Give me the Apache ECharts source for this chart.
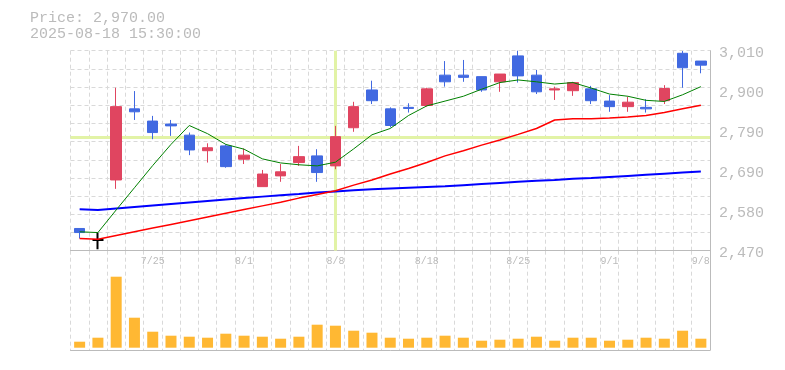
<!DOCTYPE html>
<html>
<head>
<meta charset="utf-8">
<script src="https://cdn.jsdelivr.net/npm/echarts@6/dist/echarts.min.js"></script>
<style>
html,body{margin:0;padding:0;background:#fff;}
#chart{width:785px;height:370px;}
</style>
</head>
<body>
<div id="chart"></div>
<script>
// ---- data ----
const dates = ['7/18','7/22','7/23','7/24','7/25','7/28','7/29','7/30','7/31','8/1',
  '8/4','8/5','8/6','8/7','8/8','8/12','8/13','8/14','8/15','8/18',
  '8/19','8/20','8/21','8/22','8/25','8/26','8/27','8/28','8/29','9/1',
  '9/2','9/3','9/4','9/5','9/8'];
const opens  = [2530,2499,2661,2853,2820,2812,2782,2740,2753,2717,2643,2672,2708,2726,2699,2802,2904,2853,2857,2862,2944,2944,2940,2926,2996,2944,2904,2902,2907,2874,2859,2857,2875,3003,2982];
const closes = [2519,2499,2859,2845,2789,2807,2742,2748,2697,2728,2677,2683,2724,2681,2778,2859,2875,2808,2854,2907,2926,2938,2904,2947,2942,2899,2907,2924,2875,2859,2871,2853,2908,2964,2971];
const lows   = [2503,2474,2637,2823,2771,2780,2728,2708,2694,2704,2643,2656,2699,2656,2690,2791,2866,2803,2843,2859,2913,2926,2899,2899,2924,2893,2877,2888,2866,2845,2845,2843,2866,2910,2949];
const highs  = [2530,2519,2910,2901,2834,2823,2789,2760,2757,2746,2688,2704,2753,2744,2807,2872,2929,2857,2868,2910,2982,2985,2940,2947,3010,2958,2913,2926,2915,2890,2886,2879,2917,3009,2982];
const ma5  = [2521,2519,2580,2640,2700,2757,2808,2786,2757,2744,2718,2707,2702,2699,2709,2745,2783,2800,2835,2861,2874,2887,2906,2924,2931,2926,2920,2924,2909,2893,2887,2876,2873,2891,2913];
const ma25 = [2503,2501,2511,2521,2531,2541,2551,2561,2571,2581,2591,2601,2612,2622,2632,2647,2661,2677,2692,2708,2726,2740,2755,2769,2784,2800,2823,2826,2826,2828,2831,2835,2843,2853,2863];
const ma75 = [2582,2580,2584,2588,2592,2596,2600,2604,2608,2612,2616,2620,2623,2627,2630,2633,2636,2638,2640,2642,2644,2647,2650,2653,2656,2659,2661,2664,2666,2669,2672,2675,2678,2681,2684];
const volumes = [60,100,710,300,160,120,110,100,140,120,110,90,110,230,220,170,150,100,90,100,120,100,70,80,90,110,70,100,100,70,80,100,90,170,90];
const yTickValues = [2470,2578,2686,2794,2902,3010];
const yTickLabels = ['2,470','2,580','2,690','2,790','2,900','3,010'];
const infoLines = ['Price: 2,970.00','2025-08-18 15:30:00'];
const crossDate = '8/8';
const crossPrice = 2776;

// ---- chart ----
const RED = '#E04560', BLUE = '#4169E1', GRID = '#d9d9d9', AXIS = '#bbbbbb';
const MONO = '"Liberation Mono", "DejaVu Sans Mono", monospace';
const N = dates.length;

const candleData = dates.map((d, i) => {
  const item = { value: [opens[i], closes[i], lows[i], highs[i]] };
  if (opens[i] === closes[i]) {
    item.itemStyle = { color: '#000', color0: '#000', borderColor: '#000', borderColor0: '#000', borderWidth: 2 };
  }
  return item;
});

const dashed = { color: GRID, width: 1, type: [4, 3] };

const chart = echarts.init(document.getElementById('chart'), null, { renderer: 'canvas' });
chart.setOption({
  animation: false,
  backgroundColor: '#fff',
  title: {
    text: infoLines.join('\n'),
    left: 30, top: 10, padding: 0,
    textStyle: { fontFamily: MONO, fontSize: 15, fontWeight: 'normal', color: AXIS, lineHeight: 16 }
  },
  grid: [
    { left: 70.5, right: 75, top: 50.7, height: 200 },
    { left: 70.5, right: 75, top: 250.7, bottom: 20 }
  ],
  xAxis: [
    {
      type: 'category', gridIndex: 0, data: dates, boundaryGap: true,
      axisLine: { show: true, lineStyle: { color: AXIS, width: 1 } },
      axisTick: { show: false },
      axisLabel: {
        interval: (idx) => (N - 1 - idx) % 5 === 0,
        color: AXIS, fontSize: 10, fontFamily: MONO, margin: 6
      },
      splitLine: { show: true, interval: 0, lineStyle: dashed }
    },
    {
      type: 'category', gridIndex: 1, data: dates, boundaryGap: true,
      axisLine: { show: true, onZero: false, lineStyle: { color: AXIS, width: 1 } },
      axisTick: { show: false },
      axisLabel: { show: false },
      splitLine: { show: true, interval: 0, lineStyle: dashed }
    }
  ],
  yAxis: [
    {
      type: 'value', gridIndex: 0, position: 'right',
      min: yTickValues[0], max: yTickValues[yTickValues.length - 1],
      axisLine: { show: true, lineStyle: { color: AXIS, width: 1 } },
      axisTick: { show: false },
      splitLine: { show: false },
      axisLabel: {
        customValues: yTickValues,
        formatter: (v) => {
          let k = 0;
          yTickValues.forEach((t, j) => { if (Math.abs(t - v) < Math.abs(yTickValues[k] - v)) k = j; });
          return yTickLabels[k];
        },
        color: AXIS, fontSize: 15, fontFamily: MONO, margin: 9,
        verticalAlign: 'top', lineHeight: 5
      }
    },
    {
      type: 'value', gridIndex: 0, position: 'left', min: 0, max: 11, interval: 1,
      axisLine: { show: false }, axisTick: { show: false }, axisLabel: { show: false },
      splitLine: { show: true, lineStyle: dashed }
    },
    {
      type: 'value', gridIndex: 1, position: 'right', min: -23, max: 970,
      axisLine: { show: true, lineStyle: { color: AXIS, width: 1 } },
      axisTick: { show: false }, axisLabel: { show: false }, splitLine: { show: false }
    }
  ],
  series: [
    {
      type: 'line', xAxisIndex: 0, yAxisIndex: 0, data: [], z: 1, silent: true,
      markLine: {
        z: 1, silent: true, symbol: ['none', 'none'], label: { show: false },
        lineStyle: { color: '#e2f3a6', width: 3, type: 'solid' },
        data: [{ xAxis: crossDate }, { yAxis: crossPrice }]
      }
    },
    {
      type: 'candlestick', xAxisIndex: 0, yAxisIndex: 0, data: candleData, barWidth: 11, z: 3,
      itemStyle: { color: RED, color0: BLUE, borderColor: RED, borderColor0: BLUE, borderWidth: 1 }
    },
    { type: 'line', xAxisIndex: 0, yAxisIndex: 0, data: ma75, symbol: 'none', z: 4,
      lineStyle: { color: '#0000ff', width: 2 } },
    { type: 'line', xAxisIndex: 0, yAxisIndex: 0, data: ma25, symbol: 'none', z: 4,
      lineStyle: { color: '#ff0000', width: 1.5 } },
    { type: 'line', xAxisIndex: 0, yAxisIndex: 0, data: ma5, symbol: 'none', z: 4,
      lineStyle: { color: '#008000', width: 1 } },
    {
      type: 'bar', xAxisIndex: 1, yAxisIndex: 2, data: volumes, barWidth: 11,
      itemStyle: { color: '#FFB833' }
    }
  ]
});
</script>
</body>
</html>
